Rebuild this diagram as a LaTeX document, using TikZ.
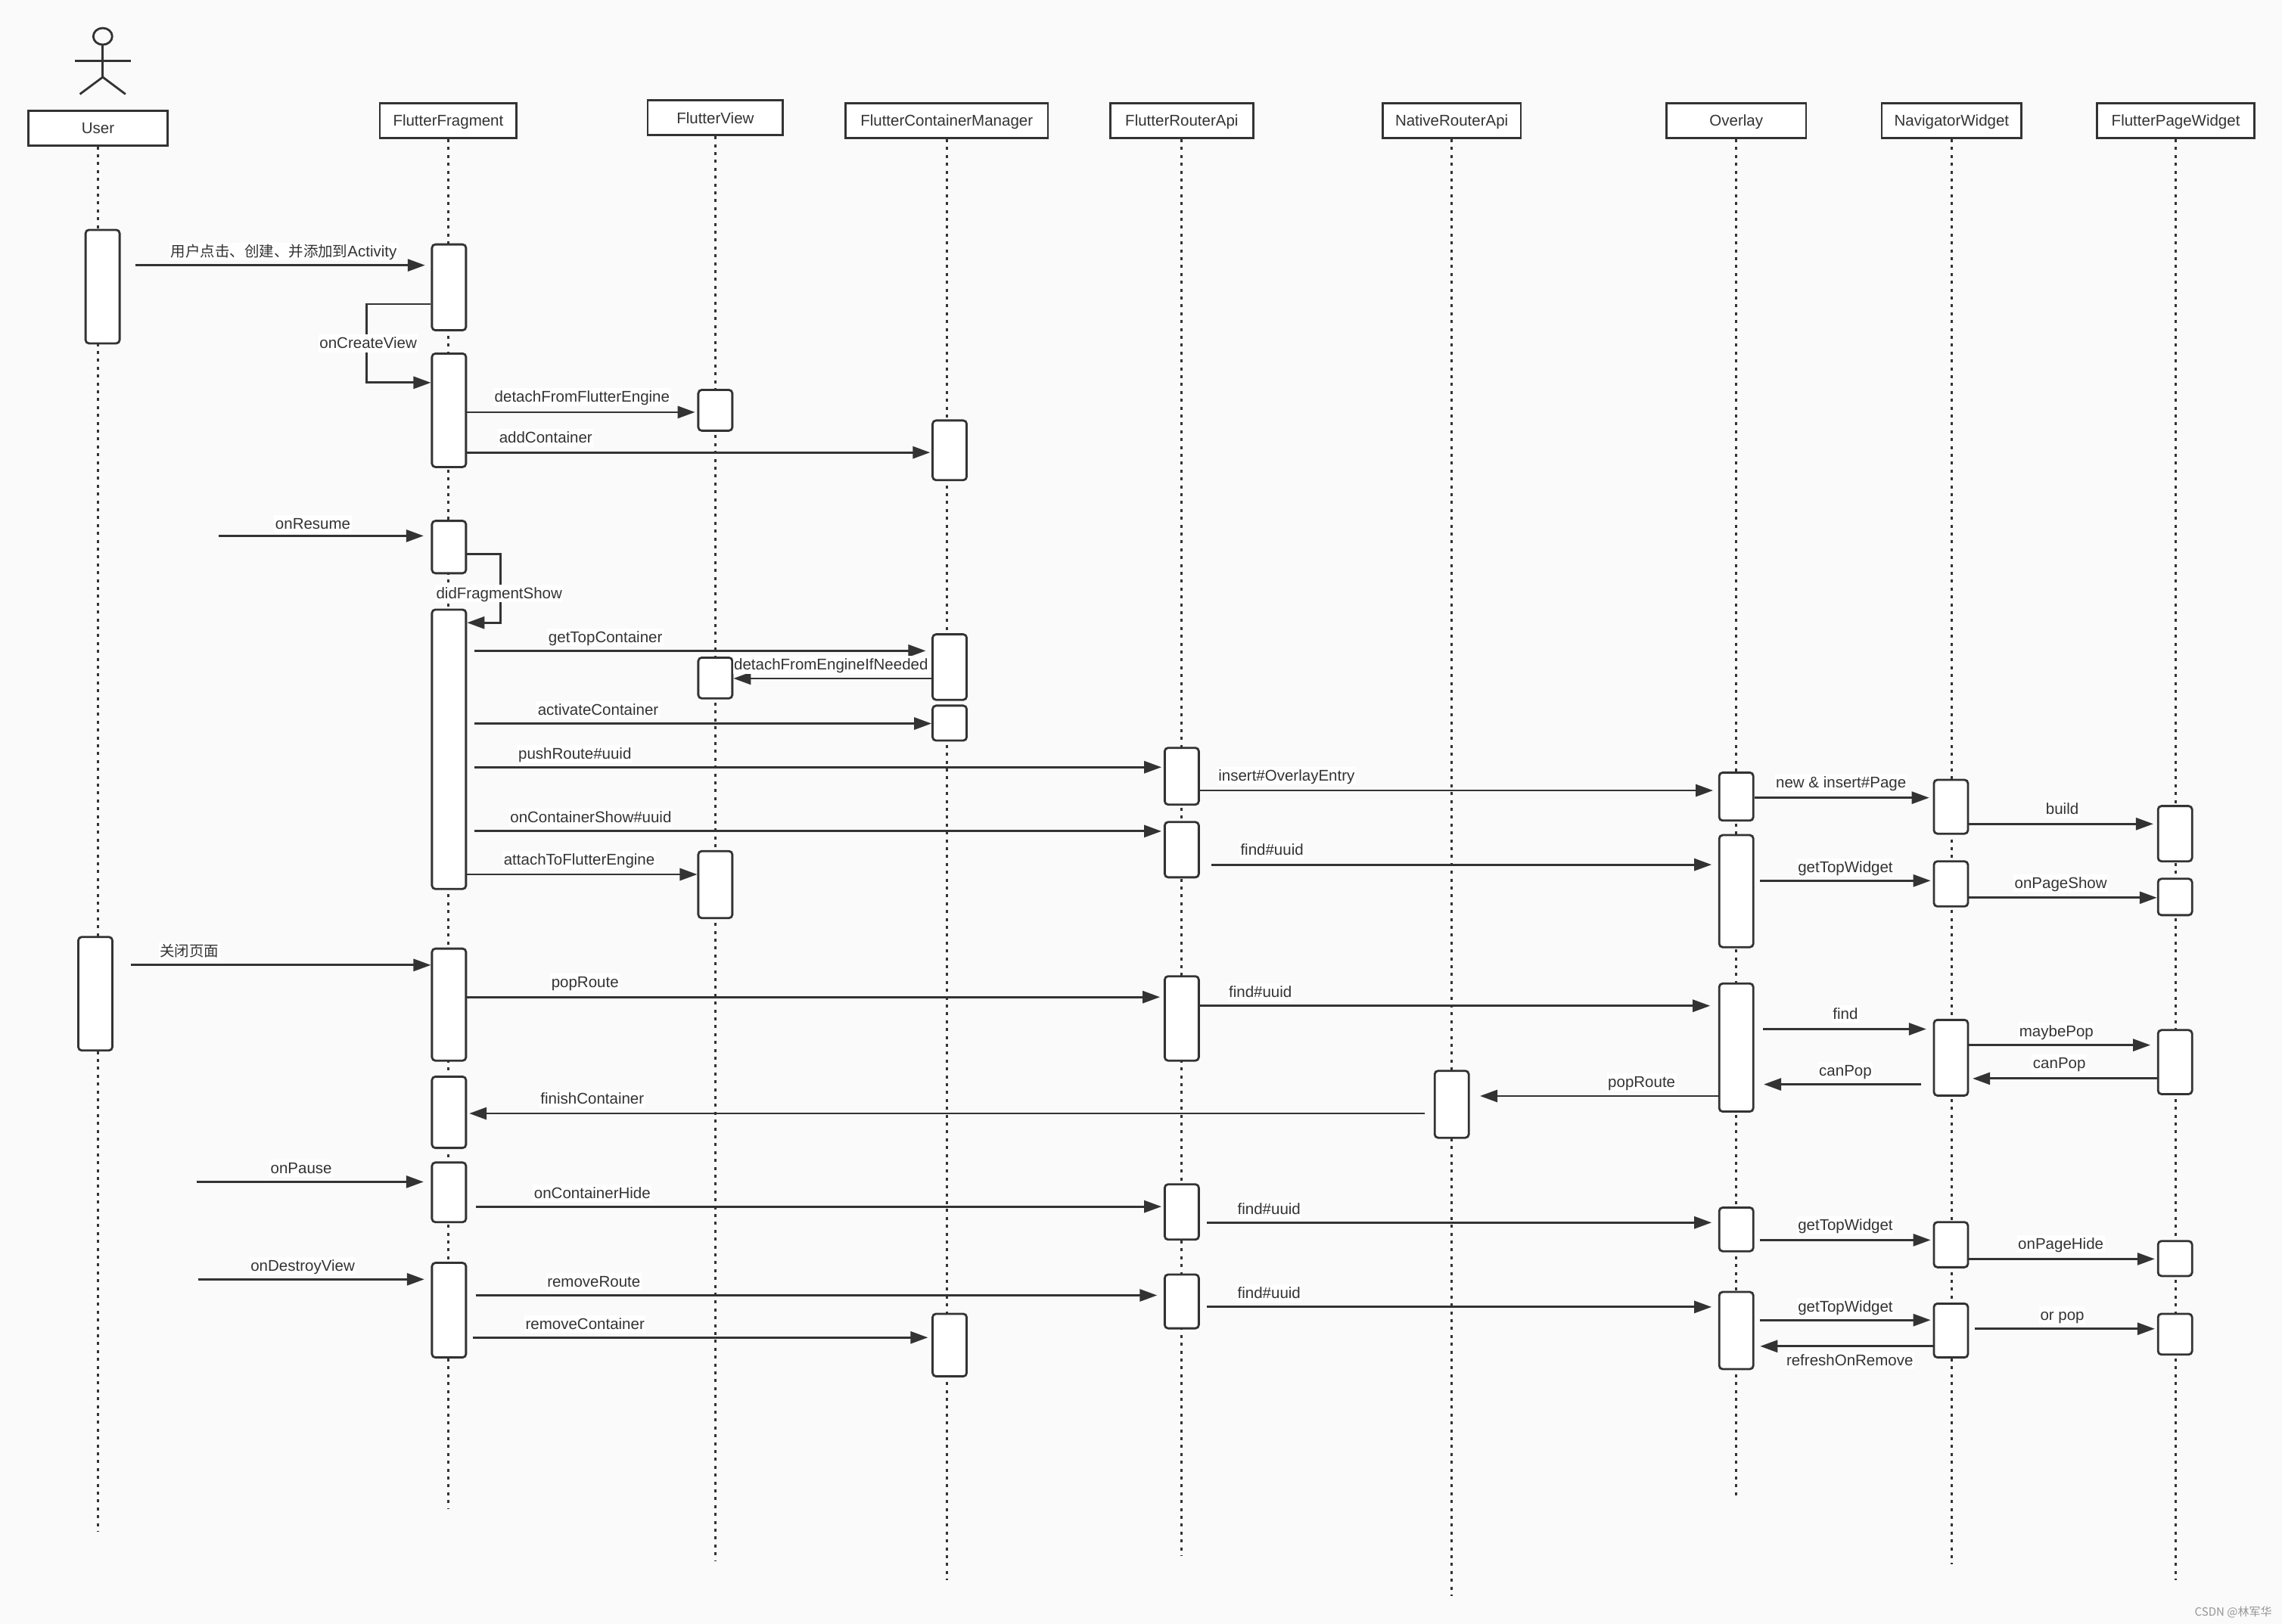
\documentclass[tikz,border=0pt]{standalone}
\usepackage{fontspec}
\setmainfont{Liberation Sans}
\newfontfamily\cjkfont[Scale=0.95]{Noto Sans CJK SC}
\newfontfamily\markfont{Noto Sans CJK SC}
\usetikzlibrary{arrows.meta, shapes.geometric}
\definecolor{PageBg}{RGB}{250,250,250}
\definecolor{Ink}{RGB}{51,51,51}
\definecolor{MarkGray}{RGB}{150,150,150}

\begin{document}
\begin{tikzpicture}[x=1.9235pt,y=-1.9235pt,
        headbox/.style={draw=Ink,fill=white,line width=2.8pt,inner sep=0pt,
                    minimum height=46pt,text=Ink,text height=17.5pt,text depth=3pt,font=\fontsize{20.5}{24}\selectfont},
        actbox/.style={draw=Ink,fill=white,line width=2.8pt,rounded corners=4.5pt,
                    inner sep=0pt,minimum width=45pt},
        life/.style={draw=Ink,line width=3pt,dash pattern=on 4pt off 6.4pt},
        stick/.style={draw=Ink,line width=2.8pt},
        msg/.style={draw=Ink,line width=2.8pt,-{Triangle[length=23pt,width=16pt]}},
        msglabel/.style={fill=white,inner sep=1.5pt,text=Ink,text height=17pt,text depth=3.4pt,font=\fontsize{20.5}{24}\selectfont}]
        \path[use as bounding box,fill=PageBg] (0,0) rectangle (1568,1116.2);

        % Stick figure above the first column
        \node[ellipse,draw=Ink,fill=PageBg,line width=2.8pt,minimum width=25pt,minimum height=22pt,inner sep=0pt] (userhead) at (70.6,25) {};
        \coordinate (hip) at (70.6,53);
        \coordinate (armleft) at (51.7,41.9);
        \coordinate (armright) at (89.7,41.9);
        \coordinate (legleft) at (54.9,64.7);
        \coordinate (legright) at (86.2,64.7);
        \draw[stick] (userhead.south) -- (hip);
        \draw[stick] (armleft) -- (armright);
        \draw[stick] (legleft) -- (hip) -- (legright);

        % Column heads
        \foreach \nm/\cx/\cy/\bw/\txt in {user/67.3/88/96/User, frag/308/83/94/FlutterFragment,
            fview/491.5/81/93/FlutterView, mgr/650.5/83/139/FlutterContainerManager,
            frapi/812/83/98/FlutterRouterApi, nrapi/997.5/83/95/NativeRouterApi,
            over/1193/83/96/Overlay, nav/1341/83/96/NavigatorWidget, page/1495/83/108/FlutterPageWidget}
            \node[headbox,minimum width={\bw*1.9235pt}] (\nm) at (\cx,\cy) {\txt};

        % Lifelines
        \foreach \nm/\yend in {user/1053,frag/1037,fview/1073,mgr/1086,frapi/1069,nrapi/1097,over/1031,nav/1075,page/1086}
            \draw[life] (\nm.south) -- (\nm.south |- 0,\yend);

        % Activation bars: name/centre x/top/bottom
        \foreach \nm/\cx/\ya/\yb in {
            u1/70.5/158/236, u2/65.5/644/722,
            ff1/308.5/168/227, ff2/308.5/243/321, ff3/308.5/358/394, ff4/308.5/419/611,
            ff5/308.5/652/729, ff6/308.5/740/789, ff7/308.5/799/840, ff8/308.5/868/933,
            fv1/491.5/268/296, fv2/491.5/452/480, fv3/491.5/585/631,
            cm1/652.5/289/330, cm2/652.5/436/481, cm3/652.5/485/509, cm4/652.5/903/946,
            ra1/812/514/553, ra2/812/565/603, ra3/812/671/729, ra4/812/814/852, ra5/812/876/913,
            nr1/997.5/736/782,
            ov1/1193/531/564, ov2/1193/574/651, ov3/1193/676/764, ov4/1193/830/860, ov5/1193/888/941,
            nw1/1340.5/536/573, nw2/1340.5/592/623, nw3/1340.5/701/753, nw4/1340.5/840/871, nw5/1340.5/896/933,
            pw1/1494.5/554/592, pw2/1494.5/604/629, pw3/1494.5/708/752, pw4/1494.5/853/877, pw5/1494.5/903/931}
            \node[actbox,minimum height={(\yb-\ya)*1.9235pt}] (\nm) at (\cx,{(\ya+\yb)/2}) {};

        \coordinate (resumefrom) at (150,368.3);
        \coordinate (pausefrom) at (135,812.3);
        \coordinate (destroyfrom) at (136,879.3);

        % Straight calls: from/to/y/gap at start/gap at end
        \foreach \src/\dst/\yy/\ga/\gb in {
            u1.east/ff1.west/182.3/10/4, ff2.east/fv1.west/283.3/0/1.5, ff2.east/cm1.west/311/0/1,
            resumefrom/ff3.west/368.3/0/5, ff4.east/cm2.west/447.3/5/4, cm2.west/fv2.east/466.3/0/0,
            ff4.east/cm3.west/497.3/5/0, ff4.east/ra1.west/527.3/5/1.5, ff4.east/ra2.west/571.3/5/1.5,
            ff4.east/fv3.west/601/0/0, ra1.east/ov1.west/543.3/0/3.5, ov1.east/nw1.west/548.3/0/2.5,
            nw1.east/pw1.west/566.3/0/2.5, ra2.east/ov2.west/594.3/8/4.5, ov2.east/nw2.west/605.3/4/1.5,
            nw2.east/pw2.west/617/0/0, u2.east/ff5.west/663.3/12/0, ff5.east/ra3.west/685.3/0/2.5,
            ra3.east/ov3.west/691.3/0/5.5, ov3.east/nw3.west/707.3/6/4.5, nw3.east/pw3.west/718.3/0/4.5,
            pw3.west/nw3.east/741.3/0/2.5, nw3.west/ov3.east/745.3/8/6.5, ov3.west/nr1.east/753.3/0/7,
            nr1.west/ff6.east/765.3/6/1.5, pausefrom/ff7.west/812.3/0/5, ff7.east/ra4.west/829.3/6/1.5,
            ra4.east/ov4.west/840.3/5/4.5, ov4.east/nw4.west/852.3/4/1.5, nw4.east/pw4.west/865.3/0/1.5,
            destroyfrom/ff8.west/879.3/0/4.5, ff8.east/ra5.west/890.3/6/4.5, ra5.east/ov5.west/898.3/5/4.5,
            ov5.east/nw5.west/907.3/4/1.5, nw5.east/pw5.west/913.3/4/1.5, nw5.west/ov5.east/925.3/0/4,
            ff8.east/cm4.west/919.3/4/2.5}
            \draw[msg,shorten <={\ga*1.9235pt},shorten >={\gb*1.9235pt}] (\src |- 0,\yy) -- (\dst |- 0,\yy);

        % Calls that turn back into the same column
        \draw[msg] (ff1.west |- 0,209) -- ++(-44,0) |- (ff2.west |- 0,263);
        \draw[msg] (ff3.east |- 0,381) -- ++(23,0) |- (ff4.east |- 0,428);

        % Message texts
        \foreach \lx/\ly/\txt [count=\i] in {
            195/173/{{\cjkfont 用户点击、创建、并添加到}Activity}, 253/236/onCreateView,
            400/273/detachFromFlutterEngine, 375/301/addContainer, 215/360/onResume,
            343/408/didFragmentShow, 416/438/getTopContainer, 571/457/detachFromEngineIfNeeded,
            411/488/activateContainer, 395/518/pushRoute\#uuid, 406/562/onContainerShow\#uuid,
            398/591/attachToFlutterEngine, 884/533/insert\#OverlayEntry, 1265/538/new \& insert\#Page,
            1417/556/build, 874/584/find\#uuid, 1268/596/getTopWidget, 1416/607/onPageShow,
            130/654/{\cjkfont 关闭页面}, 402/675/popRoute, 866/682/find\#uuid, 1268/697/find,
            1413/709/maybePop, 1415/731/canPop, 1268/736/canPop, 1128/744/popRoute,
            407/755/finishContainer, 207/803/onPause, 407/820/onContainerHide, 872/831/find\#uuid,
            1268/842/getTopWidget, 1416/855/onPageHide, 208/870/onDestroyView, 408/881/removeRoute,
            872/889/find\#uuid, 1268/898/getTopWidget, 1417/904/or pop, 1271/935/refreshOnRemove,
            402/910/removeContainer}
            \node[msglabel] (lbl\i) at (\lx,\ly) {\txt};

        \node[inner sep=0pt,text=MarkGray,font=\markfont\fontsize{15}{17}\selectfont] (csdn) at (1534.5,1108) {CSDN @林军华};
\end{tikzpicture}
\end{document}
